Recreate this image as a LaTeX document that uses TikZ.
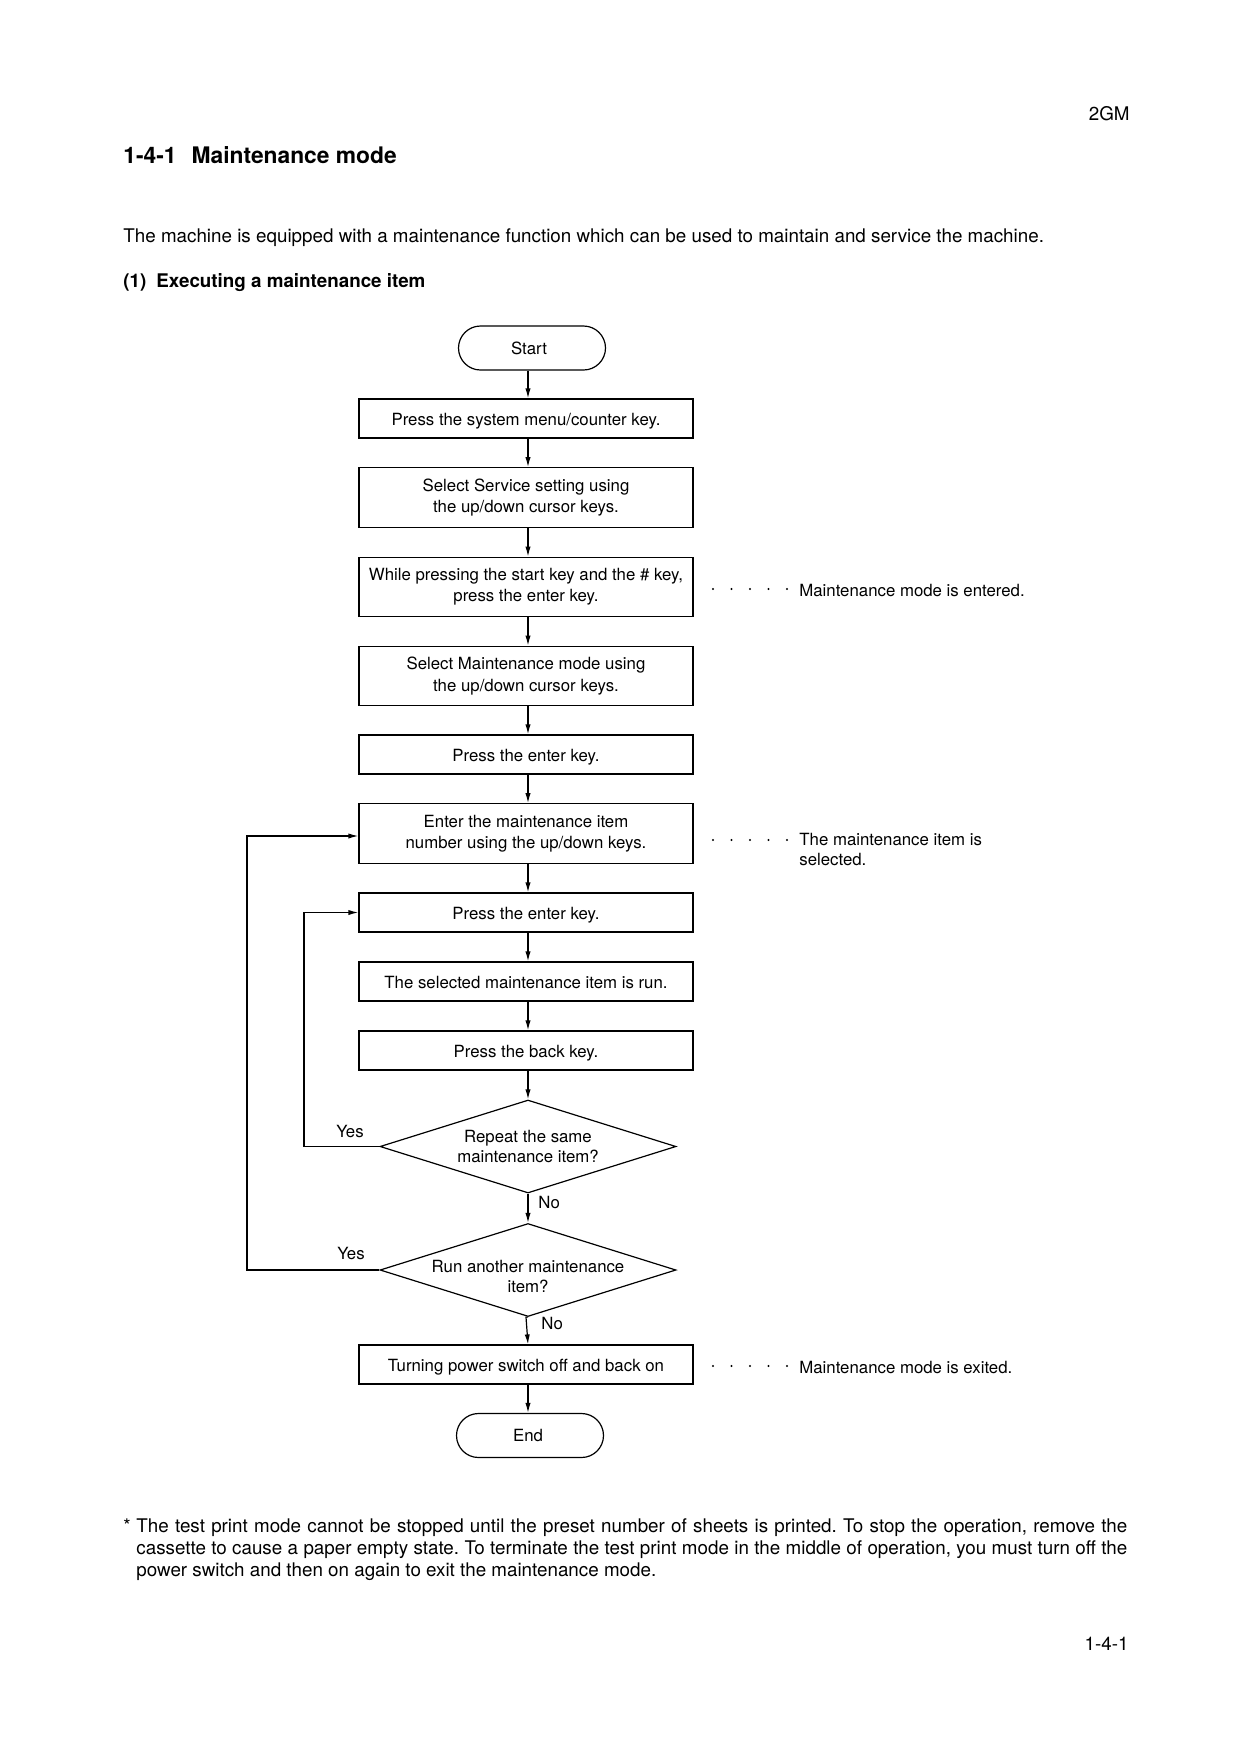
\documentclass[tikz,border=0pt]{standalone}
\usepackage{fontspec}
\setmainfont{TeX Gyre Heros}
\usetikzlibrary{shapes.geometric,arrows.meta}
\begin{document}
\frenchspacing
\begin{tikzpicture}[x=0.5pt,y=-0.5pt,
  box/.style={draw, line width=0.6pt, minimum width=167pt, inner sep=0pt, align=center, font=\fontsize{8.4}{10.6}\selectfont},
  onebox/.style={box, minimum height=19.5pt, text height=7pt, text depth=0pt},
  twobox/.style={box, minimum height=29.75pt},
  term/.style={draw, line width=0.6pt, rounded corners=11pt, minimum width=73.5pt, minimum height=22pt, inner sep=0pt, font=\fontsize{8.4}{10}\selectfont},
  dia/.style={draw, diamond, line width=0.6pt, minimum width=148pt, minimum height=46.5pt, inner sep=0pt},
  arr/.style={-{Latex[length=5pt,width=2.6pt]}, line width=0.6pt},
  txt/.style={font=\fontsize{8.4}{10}\selectfont, inner sep=0pt},
  body/.style={font=\fontsize{9.4}{11}\selectfont, inner sep=0pt},
]
\useasboundingbox (0,0) rectangle (1240,1752);

% header texts
\node[body, anchor=base east] (code) at (1130,120) {2GM};
\node[anchor=base west, inner sep=0pt, font=\bfseries\fontsize{11.4}{13}\selectfont] (head) at (123,163) {1-4-1\hspace{7.5pt}Maintenance mode};
\node[body, anchor=base west] (intro) at (123,242) {The machine is equipped with a maintenance function which can be used to maintain and service the machine.};
\node[body, anchor=base west, font=\bfseries\fontsize{9.4}{11}\selectfont] (sub) at (123,287) {(1)\hspace{5pt}Executing a maintenance item};

% flow
\coordinate (ax) at (528,0);
\node[term] (start) at (532,348) {\hspace*{-3pt}Start};
\node[onebox] (b1) at (526,418.5) {Press the system menu/counter key.};
\node[twobox] (b2) at (526,497.5) {Select Service setting using\\the up/down cursor keys.};
\node[twobox] (b3) at (526,587) {While pressing the start key and the \# key,\\press the enter key.};
\node[twobox] (b4) at (526,676) {Select Maintenance mode using\\the up/down cursor keys.};
\node[onebox] (b5) at (526,754.5) {Press the enter key.};
\node[twobox] (b6) at (526,833.5) {Enter the maintenance item\\number using the up/down keys.};
\node[onebox] (b7) at (526,912.5) {Press the enter key.};
\node[onebox] (b8) at (526,981.5) {The selected maintenance item is run.};
\node[onebox] (b9) at (526,1050.5) {Press the back key.};
\node[dia] (d1) at (528,1146.5) {};
\node[txt, align=center] (d1t) at (d1) {Repeat the same\\maintenance item?};
\node[dia] (d2) at (528,1270) {};
\node[txt, align=center, yshift=-3pt] (d2t) at (d2) {Run another maintenance\\item?};
\node[onebox] (b10) at (526,1364.5) {Turning power switch off and back on};
\node[term] (end) at (530,1435.5) {\hspace*{-2pt}End};

\draw[arr] (start.south -| ax) -- (b1.north -| ax);
\draw[arr] (b1.south -| ax) -- (b2.north -| ax);
\draw[arr] (b2.south -| ax) -- (b3.north -| ax);
\draw[arr] (b3.south -| ax) -- (b4.north -| ax);
\draw[arr] (b4.south -| ax) -- (b5.north -| ax);
\draw[arr] (b5.south -| ax) -- (b6.north -| ax);
\draw[arr] (b6.south -| ax) -- (b7.north -| ax);
\draw[arr] (b7.south -| ax) -- (b8.north -| ax);
\draw[arr] (b8.south -| ax) -- (b9.north -| ax);
\draw[arr] (b9.south -| ax) -- (d1.north);
\draw[arr] (d1.south) -- (d2.north);
\draw[arr] (d2.south) -- (b10.south |- d2.south) -- (b10.north -| ax);
\draw[arr] (b10.south -| ax) -- (end.north -| ax);

% loops
\coordinate (li) at (304,1146.5);
\coordinate (lo) at (247,1270);
\draw[arr] (d1.west) -- (li) |- (b7.west);
\draw[arr] (d2.west) -- (lo) |- ([yshift=-1.25pt]b6.west);

\node[txt] (yes1) at (350,1131) {Yes};
\node[txt] (yes2) at (351,1253) {Yes};
\node[txt, anchor=west] (no1) at (538,1202) {No};
\node[txt, anchor=west] (no2) at (541,1323) {No};

% annotations
\foreach \i in {0,...,4} {
  \fill (713+18.5*\i,589) circle (0.6pt);
  \fill (713+18.5*\i,840) circle (0.6pt);
  \fill (713+18.5*\i,1366) circle (0.6pt);
}
\node[txt, anchor=base west] (a1) at (799,596) {Maintenance mode is entered.};
\node[txt, anchor=base west] (a2) at (799,845) {The maintenance item is};
\node[txt, anchor=base west] (a2b) at (799,865) {selected.};
\node[txt, anchor=base west] (a3) at (799,1373) {Maintenance mode is exited.};

% footnote
\node[body, anchor=base west] (ast) at (123,1532) {*};
\node[body, anchor=base west] (f1) at (136,1532) {\makebox[495.5pt][s]{The test print mode cannot be stopped until the preset number of sheets is printed. To stop the operation, remove the}};
\node[body, anchor=base west] (f2) at (136,1554) {\makebox[495.5pt][s]{cassette to cause a paper empty state. To terminate the test print mode in the middle of operation, you must turn off the}};
\node[body, anchor=base west] (f3) at (136,1576) {power switch and then on again to exit the maintenance mode.};

\node[body, anchor=base east] (page) at (1129,1650) {1-4-1};
\end{tikzpicture}
\end{document}
